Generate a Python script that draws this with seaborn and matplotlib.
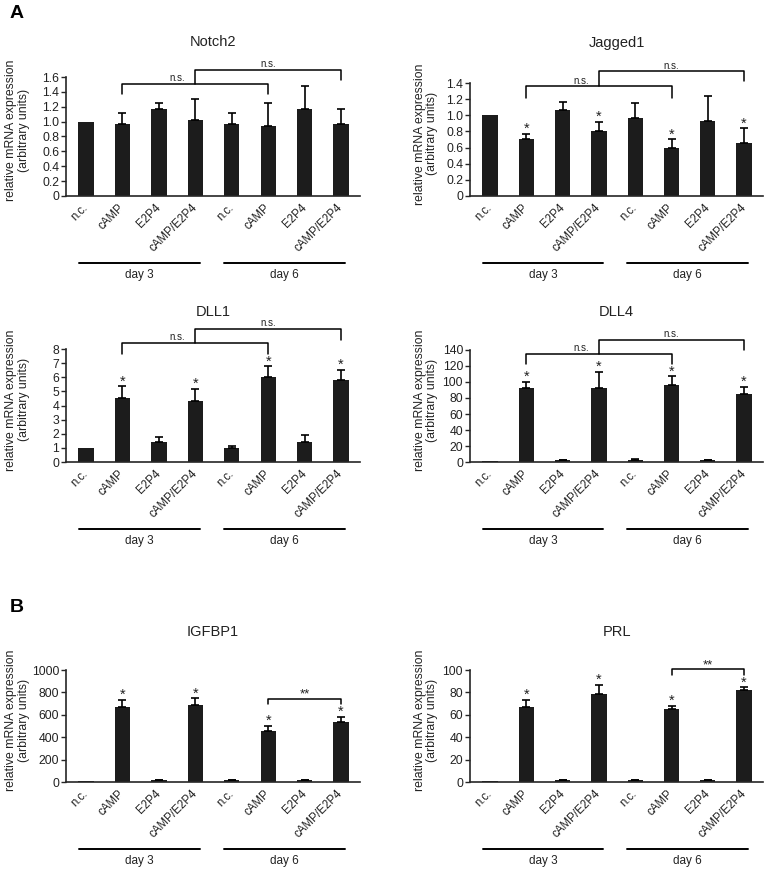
import matplotlib
matplotlib.use("Agg")
import matplotlib.pyplot as plt
from matplotlib.transforms import blended_transform_factory, offset_copy
import pandas as pd
import seaborn as sns


CONDITIONS = ["n.c.", "cAMP", "E2P4", "cAMP/E2P4", "n.c.", "cAMP", "E2P4", "cAMP/E2P4"]
DAYS = ["day 3", "day 3", "day 3", "day 3", "day 6", "day 6", "day 6", "day 6"]
YLABEL = "relative mRNA expression\n(arbitrary units)"

NOTCH2_MEAN = [1.00, 0.97, 1.17, 1.02, 0.97, 0.94, 1.17, 0.97]
NOTCH2_ERR = [0.00, 0.15, 0.08, 0.28, 0.15, 0.31, 0.31, 0.20]
NOTCH2_TICKS = [0, 0.2, 0.4, 0.6, 0.8, 1.0, 1.2, 1.4, 1.6]
NOTCH2_STARS = []

JAGGED1_MEAN = [1.00, 0.71, 1.06, 0.81, 0.97, 0.60, 0.93, 0.66]
JAGGED1_ERR = [0.00, 0.06, 0.11, 0.11, 0.18, 0.10, 0.31, 0.18]
JAGGED1_TICKS = [0, 0.2, 0.4, 0.6, 0.8, 1.0, 1.2, 1.4]
JAGGED1_STARS = [1, 3, 5, 7]

DLL1_MEAN = [1.00, 4.53, 1.41, 4.34, 1.00, 5.99, 1.39, 5.80]
DLL1_ERR = [0.00, 0.82, 0.34, 0.83, 0.10, 0.78, 0.54, 0.73]
DLL1_TICKS = [0, 1, 2, 3, 4, 5, 6, 7, 8]
DLL1_STARS = [1, 3, 5, 7]

DLL4_MEAN = [0.8, 92, 2.0, 93, 3.0, 96, 2.0, 85]
DLL4_ERR = [0, 8, 0.5, 20, 0.8, 11, 0.5, 9]
DLL4_TICKS = [0, 20, 40, 60, 80, 100, 120, 140]
DLL4_STARS = [1, 3, 5, 7]

IGFBP1_MEAN = [12, 670, 15, 688, 15, 455, 16, 535]
IGFBP1_ERR = [0, 65, 3, 58, 3, 45, 3, 47]
IGFBP1_TICKS = [0, 200, 400, 600, 800, 1000]
IGFBP1_STARS = [1, 3, 5, 7]

PRL_MEAN = [1.0, 67, 1.5, 79, 1.5, 65, 1.5, 82]
PRL_ERR = [0, 6.5, 0.3, 8, 0.3, 2.8, 0.3, 2.5]
PRL_TICKS = [0, 20, 40, 60, 80, 100]
PRL_STARS = [1, 3, 5, 7]

FIG_W, FIG_H = 770, 872
BAR_COLOR = "#1c1c1c"
TEXT_COLOR = "#222222"


def px_rect(left, top, right, bottom):
    return [left / FIG_W, 1 - bottom / FIG_H, (right - left) / FIG_W, (bottom - top) / FIG_H]


def tick_labels(ticks):
    all_int = all(float(t).is_integer() for t in ticks)
    out = []
    for t in ticks:
        if t == 0:
            out.append("0")
        elif all_int:
            out.append(f"{int(t)}")
        else:
            out.append(f"{t:.1f}")
    return out


def draw_panel(fig, rect, title, title_y, means, errs, yticks, stars, brackets, label_x):
    ax = fig.add_axes(px_rect(*rect))
    df = pd.DataFrame({
        "key": [f"{d}|{c}" for d, c in zip(DAYS, CONDITIONS)],
        "value": means,
    })
    sns.barplot(data=df, x="key", y="value", color=BAR_COLOR, saturation=1,
                width=0.42, errorbar=None, linewidth=0, ax=ax)

    xs = [i for i, e in enumerate(errs) if e > 0]
    ax.errorbar(xs, [means[i] for i in xs],
                yerr=[[0] * len(xs), [errs[i] for i in xs]],
                fmt="none", ecolor="black", elinewidth=1.2, capsize=3.2, capthick=1.2)

    for i in stars:
        ax.annotate("*", xy=(i, means[i] + errs[i]), xytext=(0, -1.5),
                    textcoords="offset points", ha="center", va="bottom",
                    fontsize=10.5, color=TEXT_COLOR)

    ax.set_xlim(-0.55, 7.52)
    ax.set_ylim(0, yticks[-1])
    ax.set_yticks(yticks)
    ax.set_yticklabels(tick_labels(yticks))
    ax.set_xticks(range(len(CONDITIONS)))
    ax.set_xticklabels(CONDITIONS, rotation=45, ha="right", va="center",
                       rotation_mode="anchor")
    ax.tick_params(axis="x", length=0, pad=7, labelsize=8.3, labelcolor=TEXT_COLOR)
    ax.tick_params(axis="y", length=3.5, width=1, direction="out", labelsize=8.8,
                   pad=1.5, labelcolor=TEXT_COLOR)
    ax.set_xlabel("")
    ax.set_ylabel(YLABEL, fontsize=8.8, va="center", linespacing=1.1, color=TEXT_COLOR)
    ax.yaxis.set_label_coords(label_x, 0.55)
    sns.despine(ax=ax)
    for side in ["left", "bottom"]:
        ax.spines[side].set_linewidth(1.2)

    # bracket annotations above the bars
    for x0, x1, level, leg0, leg1, text, text_x in brackets:
        ax.plot([x0, x0, x1, x1], [leg0, level, level, leg1], color="black",
                lw=1.1, clip_on=False)
        if text == "**":
            ax.annotate(text, xy=(text_x, level), xytext=(0, -1.5), textcoords="offset points",
                        ha="center", va="bottom", fontsize=9.5, color=TEXT_COLOR,
                        annotation_clip=False)
        else:
            ax.annotate(text, xy=(text_x, level), xytext=(0, 0.5), textcoords="offset points",
                        ha="center", va="bottom", fontsize=7, color=TEXT_COLOR,
                        annotation_clip=False)

    # day group lines
    trans = blended_transform_factory(ax.transData, ax.transAxes)
    line_tr = offset_copy(trans, fig=fig, y=-67, units="dots")
    text_tr = offset_copy(trans, fig=fig, y=-79, units="dots")
    for x0, x1, name in [(-0.2, 3.12, "day 3"), (3.78, 7.12, "day 6")]:
        ax.plot([x0, x1], [0, 0], color="black", lw=1.4, transform=line_tr, clip_on=False)
        ax.text((x0 + x1) / 2, 0, name, transform=text_tr, ha="center", va="center",
                fontsize=8.5, color=TEXT_COLOR)

    cx = (rect[0] + rect[2]) / 2
    fig.text(cx / FIG_W, 1 - title_y / FIG_H, title, ha="center", va="center",
             fontsize=10.5, color=TEXT_COLOR)
    return ax


def main():
    sns.set_theme(style="ticks")
    plt.rcParams["font.family"] = ["Liberation Sans", "DejaVu Sans"]

    fig = plt.figure(figsize=(FIG_W / 100, FIG_H / 100), dpi=100)

    draw_panel(fig, (66, 77, 360, 196), "Notch2", 42, NOTCH2_MEAN, NOTCH2_ERR, NOTCH2_TICKS,
               NOTCH2_STARS,
               [(1, 5, 1.51, 1.37, 1.37, "n.s.", 2.5), (3, 7, 1.70, 1.51, 1.56, "n.s.", 5.0)],
               -0.165)
    draw_panel(fig, (470, 83, 763, 196), "Jagged1", 43, JAGGED1_MEAN, JAGGED1_ERR, JAGGED1_TICKS,
               JAGGED1_STARS,
               [(1, 5, 1.36, 1.22, 1.22, "n.s.", 2.5), (3, 7, 1.545, 1.36, 1.42, "n.s.", 5.0)],
               -0.15)
    draw_panel(fig, (66, 349, 360, 462), "DLL1", 312, DLL1_MEAN, DLL1_ERR, DLL1_TICKS,
               DLL1_STARS,
               [(1, 5, 8.42, 7.67, 7.67, "n.s.", 2.5), (3, 7, 9.43, 8.42, 8.66, "n.s.", 5.0)],
               -0.165)
    draw_panel(fig, (470, 350, 763, 462), "DLL4", 312, DLL4_MEAN, DLL4_ERR, DLL4_TICKS,
               DLL4_STARS,
               [(1, 5, 135.5, 122.7, 122.7, "n.s.", 2.5), (3, 7, 153, 135.5, 140, "n.s.", 5.0)],
               -0.15)
    draw_panel(fig, (66, 670, 360, 782), "IGFBP1", 632, IGFBP1_MEAN, IGFBP1_ERR, IGFBP1_TICKS,
               IGFBP1_STARS, [(5, 7, 743, 699, 699, "**", 6.0)], -0.165)
    draw_panel(fig, (470, 670, 763, 782), "PRL", 632, PRL_MEAN, PRL_ERR, PRL_TICKS,
               PRL_STARS, [(5, 7, 101, 95.5, 95.5, "**", 6.0)], -0.15)

    fig.text(10 / FIG_W, 1 - 14 / FIG_H, "A", fontsize=14, fontweight="bold",
             ha="left", va="center", color="black")
    fig.text(10 / FIG_W, 1 - 607 / FIG_H, "B", fontsize=14, fontweight="bold",
             ha="left", va="center", color="black")

    fig.savefig("out.png", dpi=100)
    plt.close(fig)


if __name__ == "__main__":
    main()
